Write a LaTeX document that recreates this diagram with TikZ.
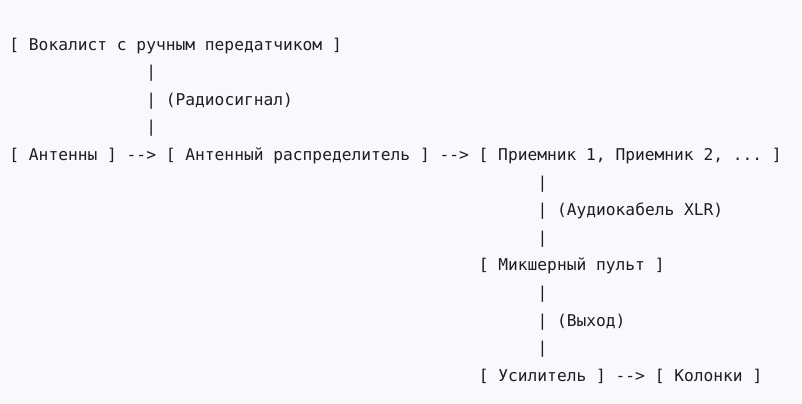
\documentclass[tikz,border=0pt]{standalone}
\usepackage{fontspec}
\usepackage{xcolor}
\usepackage{tikz}
\setmonofont{DejaVu Sans Mono}
\definecolor{paper}{RGB}{249,249,251}
\definecolor{ink}{RGB}{30,30,32}

\begin{document}
\begin{tikzpicture}[x=0.5pt,y=-0.5pt,
    txt/.style={anchor=base west,inner sep=0pt,text=ink,
      font=\ttfamily\fontsize{8.12}{10}\selectfont}]
      \fill[paper] (0,0) rectangle (802,403);
      \useasboundingbox (0,0) rectangle (802,403);
      % column 0, 14, 48, 54 ; one cell = 9.78
      \node[txt] (singer) at (9,50) {[ Вокалист с ручным передатчиком ]};
      \node[txt] (pa) at (145.9,77.6) {|};
      \node[txt] (pb) at (145.9,105.2) {| (Радиосигнал)};
      \node[txt] (pc) at (145.9,132.8) {|};
      \node[txt] (chain) at (9,160.4) {[ Антенны ] -{}-> [ Антенный распределитель ] -{}-> [ Приемник 1, Приемник 2, ... ]};
      \node[txt] (pd) at (537.1,188) {|};
      \node[txt] (pe) at (537.1,215.6) {| (Аудиокабель XLR)};
      \node[txt] (pf) at (537.1,243.2) {|};
      \node[txt] (mixer) at (478.4,270.8) {[ Микшерный пульт ]};
      \node[txt] (pg) at (537.1,298.4) {|};
      \node[txt] (ph) at (537.1,326) {| (Выход)};
      \node[txt] (pi) at (537.1,353.6) {|};
      \node[txt] (amp) at (478.4,381.2) {[ Усилитель ] -{}-> [ Колонки ]};
    \end{tikzpicture}
\end{document}
